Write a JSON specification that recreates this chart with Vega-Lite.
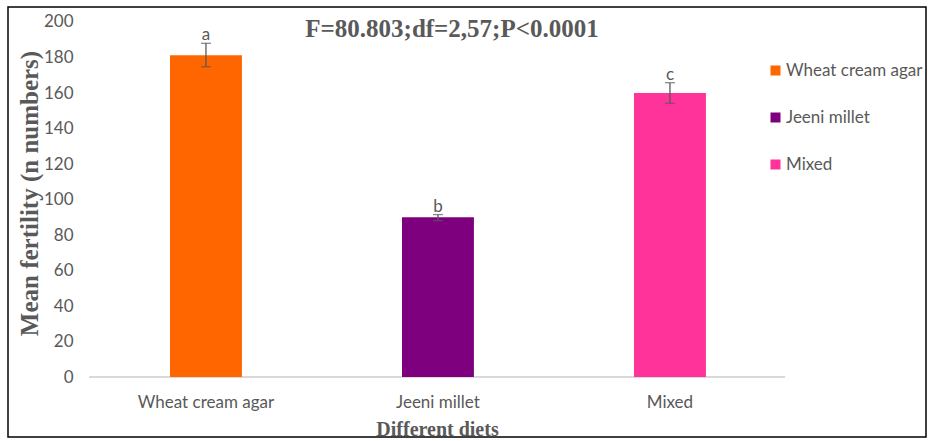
{
  "$schema": "https://vega.github.io/schema/vega-lite/v6.json",
  "width": 918,
  "height": 430,
  "autosize": "none",
  "padding": {"left": 8, "top": 7, "right": 2, "bottom": 4},
  "background": "white",
  "config": {"view": {"stroke": "#000000", "strokeWidth": 1.5}, "font": "Lato"},
  "title": {
    "text": "F=80.803;df=2,57;P<0.0001",
    "font": "Liberation Serif",
    "fontSize": 25,
    "fontWeight": "bold",
    "color": "#595959",
    "anchor": "middle",
    "frame": "group",
    "baseline": "alphabetic",
    "offset": -55,
    "dx": -15
  },
  "data": {
    "values": [
      {"diet": "Wheat cream agar", "mean": 181.3, "lo": 174.8, "hi": 188.0, "letter": "a"},
      {"diet": "Jeeni millet", "mean": 90.0, "lo": 88.1, "hi": 91.5, "letter": "b"},
      {"diet": "Mixed", "mean": 160.0, "lo": 154.2, "hi": 165.8, "letter": "c"}
    ]
  },
  "layer": [
    {
      "mark": {"type": "rule", "color": "#d9d9d9", "strokeWidth": 1.3},
      "encoding": {
        "x": {"datum": 0, "type": "quantitative", "scale": {"domain": [-0.1164, 1.2026], "nice": false, "zero": false}, "axis": null},
        "x2": {"datum": 1},
        "y": {"datum": 0, "type": "quantitative", "scale": {"domain": [-33.8, 208.45], "nice": false, "zero": false}}
      }
    },
    {
      "layer": [
        {
          "mark": {"type": "bar"},
          "encoding": {
            "x": {
              "field": "diet",
              "type": "nominal",
              "scale": {"domain": ["Wheat cream agar", "Jeeni millet", "Mixed"], "paddingInner": 0.69, "paddingOuter": 0.8235, "align": 0.424},
              "axis": {
                "offset": -60,
                "domain": false,
                "ticks": false,
                "tickSize": 0,
                "grid": false,
                "labelPadding": 17,
                "labelAngle": 0,
                "labelFont": "Lato",
                "labelFontSize": 17,
                "labelColor": "#595959",
                "title": "Different diets",
                "titleFont": "Liberation Serif",
                "titleFontSize": 20,
                "titleFontWeight": "bold",
                "titleColor": "#595959",
                "titleX": 429,
                "titleY": 58,
                "titleBaseline": "alphabetic",
                "titleAlign": "center"
              }
            },
            "y": {
              "field": "mean",
              "type": "quantitative",
              "scale": {"domain": [-33.8, 208.45], "nice": false, "zero": false},
              "axis": {
                "values": [0, 20, 40, 60, 80, 100, 120, 140, 160, 180, 200],
                "offset": -65,
                "domain": false,
                "ticks": false,
                "tickSize": 0,
                "grid": false,
                "labelPadding": 0,
                "labelOverlap": false,
                "labelFont": "Lato",
                "labelFontSize": 17,
                "labelColor": "#595959",
                "title": "Mean fertility (n numbers)",
                "titleFont": "Liberation Serif",
                "titleFontSize": 25,
                "titleFontWeight": "bold",
                "titleColor": "#595959",
                "titleX": -36,
                "titleY": 186,
                "titleAngle": -90,
                "titleBaseline": "alphabetic",
                "titleAlign": "center"
              }
            },
            "y2": {"datum": 0},
            "color": {
              "field": "diet",
              "type": "nominal",
              "scale": {"domain": ["Wheat cream agar", "Jeeni millet", "Mixed"], "range": ["#FF6600", "#7F007F", "#FF3399"]},
              "legend": {
                "title": null,
                "orient": "none",
                "legendX": 759,
                "legendY": 55,
                "symbolType": "square",
                "symbolSize": 100,
                "symbolStrokeWidth": 0,
                "labelFont": "Lato",
                "labelFontSize": 17,
                "labelColor": "#595959",
                "rowPadding": 29,
                "labelOffset": 2,
                "padding": 0
              }
            }
          }
        },
        {
          "mark": {"type": "rule", "color": "#595959", "strokeWidth": 1.3},
          "encoding": {
            "x": {"field": "diet", "type": "nominal"},
            "y": {"field": "lo", "type": "quantitative"},
            "y2": {"field": "hi"}
          }
        },
        {
          "mark": {"type": "tick", "color": "#595959", "size": 10, "thickness": 1.3},
          "encoding": {
            "x": {"field": "diet", "type": "nominal"},
            "y": {"field": "lo", "type": "quantitative"}
          }
        },
        {
          "mark": {"type": "tick", "color": "#595959", "size": 10, "thickness": 1.3},
          "encoding": {
            "x": {"field": "diet", "type": "nominal"},
            "y": {"field": "hi", "type": "quantitative"}
          }
        },
        {
          "mark": {"type": "text", "dy": -3, "baseline": "alphabetic", "font": "Lato", "fontSize": 17, "color": "#595959"},
          "encoding": {
            "x": {"field": "diet", "type": "nominal"},
            "y": {"field": "hi", "type": "quantitative"},
            "text": {"field": "letter"}
          }
        }
      ]
    }
  ],
  "resolve": {"scale": {"x": "independent"}}
}
